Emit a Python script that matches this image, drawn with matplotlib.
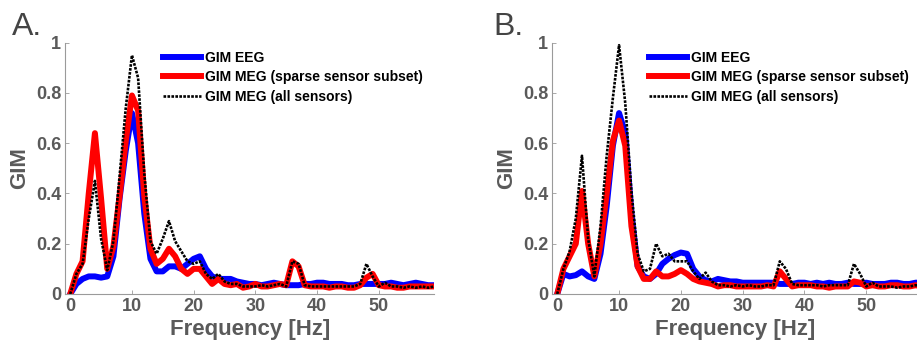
import matplotlib
matplotlib.use("Agg")
import matplotlib.pyplot as plt
import numpy as np

freqs = list(range(0, 60))

eeg_a = [0, 0.04, 0.06, 0.07, 0.07, 0.065, 0.07, 0.15, 0.38, 0.57,
         0.72, 0.6, 0.32, 0.14, 0.09, 0.09, 0.11, 0.11, 0.1, 0.12,
         0.14, 0.15, 0.1, 0.07, 0.06, 0.06, 0.06, 0.05, 0.045, 0.04,
         0.04, 0.035, 0.04, 0.045, 0.04, 0.035, 0.035, 0.035, 0.04, 0.04,
         0.045, 0.045, 0.04, 0.04, 0.04, 0.035, 0.035, 0.04, 0.04, 0.04,
         0.04, 0.04, 0.045, 0.04, 0.035, 0.04, 0.045, 0.04, 0.035, 0.035]
meg_sparse_a = [0, 0.08, 0.13, 0.4, 0.64, 0.38, 0.1, 0.19, 0.39, 0.61,
                0.79, 0.73, 0.39, 0.18, 0.12, 0.14, 0.18, 0.15, 0.1, 0.08,
                0.1, 0.1, 0.07, 0.04, 0.06, 0.04, 0.035, 0.04, 0.025, 0.03,
                0.04, 0.03, 0.03, 0.035, 0.04, 0.035, 0.13, 0.11, 0.035, 0.03,
                0.03, 0.03, 0.025, 0.03, 0.03, 0.025, 0.025, 0.035, 0.065, 0.08,
                0.035, 0.03, 0.03, 0.025, 0.025, 0.03, 0.03, 0.03, 0.03, 0.03]
meg_all_a = [0, 0.08, 0.12, 0.3, 0.45, 0.22, 0.095, 0.21, 0.47, 0.74,
             0.95, 0.86, 0.48, 0.21, 0.16, 0.22, 0.29, 0.21, 0.17, 0.13,
             0.12, 0.13, 0.08, 0.06, 0.08, 0.05, 0.04, 0.04, 0.03, 0.03,
             0.03, 0.035, 0.03, 0.035, 0.04, 0.03, 0.13, 0.12, 0.035, 0.03,
             0.03, 0.03, 0.03, 0.03, 0.03, 0.03, 0.03, 0.04, 0.12, 0.07,
             0.03, 0.045, 0.03, 0.03, 0.025, 0.03, 0.025, 0.03, 0.025, 0.03]

eeg_b = [0, 0.08, 0.07, 0.075, 0.09, 0.07, 0.06, 0.16, 0.35, 0.59,
         0.72, 0.64, 0.32, 0.11, 0.07, 0.06, 0.08, 0.12, 0.14, 0.155,
         0.165, 0.16, 0.1, 0.07, 0.055, 0.05, 0.06, 0.055, 0.05, 0.05,
         0.045, 0.045, 0.045, 0.045, 0.045, 0.045, 0.04, 0.04, 0.04, 0.045,
         0.045, 0.04, 0.045, 0.04, 0.045, 0.04, 0.04, 0.045, 0.04, 0.04,
         0.045, 0.04, 0.04, 0.04, 0.045, 0.045, 0.04, 0.04, 0.045, 0.045]
meg_sparse_b = [0, 0.1, 0.15, 0.2, 0.41, 0.2, 0.07, 0.2, 0.4, 0.61,
                0.69, 0.59, 0.27, 0.11, 0.06, 0.06, 0.09, 0.07, 0.07, 0.08,
                0.095, 0.08, 0.06, 0.05, 0.045, 0.04, 0.03, 0.035, 0.035, 0.03,
                0.03, 0.03, 0.03, 0.03, 0.035, 0.03, 0.09, 0.06, 0.03, 0.035,
                0.035, 0.035, 0.03, 0.03, 0.025, 0.03, 0.03, 0.03, 0.05, 0.045,
                0.03, 0.035, 0.03, 0.03, 0.035, 0.035, 0.03, 0.03, 0.035, 0.03]
meg_all_b = [0, 0.1, 0.17, 0.3, 0.55, 0.22, 0.07, 0.27, 0.55, 0.78,
             0.99, 0.76, 0.41, 0.16, 0.09, 0.1, 0.2, 0.15, 0.16, 0.13,
             0.13, 0.13, 0.09, 0.06, 0.085, 0.05, 0.035, 0.035, 0.03, 0.035,
             0.03, 0.035, 0.03, 0.03, 0.035, 0.035, 0.13, 0.1, 0.04, 0.035,
             0.035, 0.035, 0.035, 0.03, 0.035, 0.035, 0.035, 0.035, 0.12, 0.08,
             0.03, 0.045, 0.03, 0.03, 0.03, 0.025, 0.03, 0.03, 0.035, 0.03]

legend_labels = ["GIM EEG", "GIM MEG (sparse sensor subset)", "GIM MEG (all sensors)"]
panel_labels = ["A.", "B."]
xticks = [0, 10, 20, 30, 40, 50]
yticks = [0, 0.2, 0.4, 0.6, 0.8, 1]
ytick_labels = ["0", "0.2", "0.4", "0.6", "0.8", "1"]

plt.rcParams['font.family'] = ['Liberation Sans', 'DejaVu Sans']
W, H = 917, 345
fig = plt.figure(figsize=(W / 100, H / 100), dpi=100)

grey = "#5a5a5a"
axes_specs = [
    (65.3, 434.3, (-0.8, 59.0), eeg_a, meg_sparse_a, meg_all_a, 12),
    (552.3, 917.0, (-0.8, 58.2), eeg_b, meg_sparse_b, meg_all_b, 493),
]
for i, (xl, xr, xlim, eeg, megs, mega, labx) in enumerate(axes_specs):
    ax = fig.add_axes([xl / W, 1 - 294 / H, (xr - xl) / W, (294 - 42.7) / H])
    ax.plot(freqs, eeg, color=(0, 0, 1), lw=4.3, label=legend_labels[0], solid_joinstyle='round')
    ax.plot(freqs, megs, color=(1, 0, 0), lw=4.3, label=legend_labels[1], solid_joinstyle='round')
    ax.plot(freqs, mega, color='black', lw=1.9, linestyle=(0, (1.0, 0.5)), label=legend_labels[2])
    ax.set_xlim(*xlim)
    ax.set_ylim(0, 1)
    ax.set_xticks(xticks)
    ax.set_yticks(yticks)
    ax.set_yticklabels(ytick_labels)
    for s in ['top', 'right']:
        ax.spines[s].set_visible(False)
    for s in ['left', 'bottom']:
        ax.spines[s].set_color('#9a9a9a')
        ax.spines[s].set_linewidth(0.8)
    ax.tick_params(direction='in', length=3, width=0.6, color='#9a9a9a',
                   labelcolor=grey, labelsize=13, pad=3)
    for t in ax.get_xticklabels() + ax.get_yticklabels():
        t.set_fontweight('bold')
    ax.set_xlabel("Frequency [Hz]", fontsize=16, fontweight='bold', color=grey, labelpad=3)
    ax.set_ylabel("GIM", fontsize=16, fontweight='bold', color=grey, labelpad=4)
    leg = ax.legend(loc='upper left', bbox_to_anchor=(0.25, 0.99), frameon=False,
                    fontsize=10, handlelength=2.7, handletextpad=0.35, labelspacing=0.4,
                    borderaxespad=0)
    for t in leg.get_texts():
        t.set_fontweight('bold')
    fig.text(labx / W, 1 - 35 / H, panel_labels[i], fontsize=23, color='#444444',
             ha='left', va='baseline')

fig.savefig("out.png", dpi=100)
